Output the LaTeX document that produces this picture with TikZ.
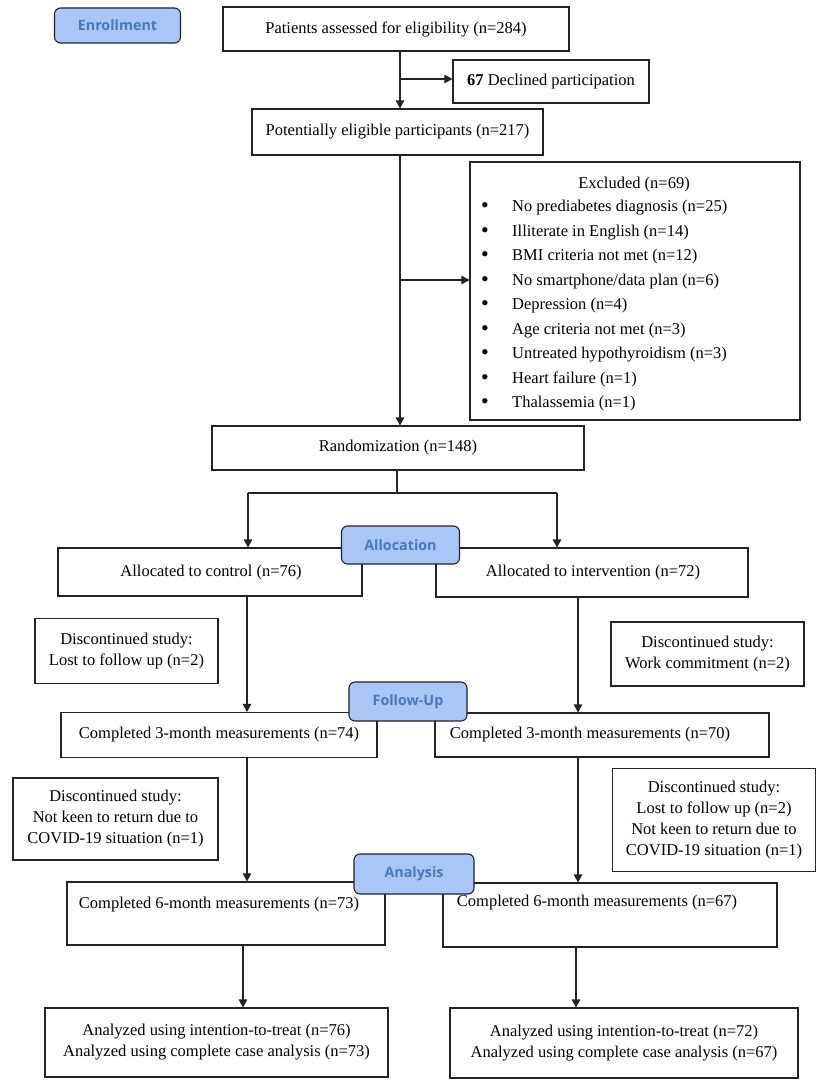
\documentclass[tikz,border=0pt]{standalone}
\usepackage{fontspec}
\setmainfont{Liberation Serif}
\newfontfamily\lblfont{Open Sans}
\usetikzlibrary{arrows.meta,calc}
\definecolor{lblfill}{RGB}{169,198,248}
\definecolor{lbltext}{RGB}{74,120,184}
\definecolor{lineclr}{RGB}{35,35,35}
\begin{document}
\begin{tikzpicture}[x=1pt,y=-1pt,
  box/.style={draw=lineclr, line width=1.1pt, inner sep=0pt, align=center,
    font=\fontsize{16.5}{21}\selectfont},
  txt/.style={inner sep=0pt, align=center, font=\fontsize{16.5}{21}\selectfont},
  stage/.style={draw=lineclr, line width=1.1pt, fill=lblfill, rounded corners=6pt,
    inner sep=0pt, font=\lblfont\bfseries\fontsize{14.3}{17}\selectfont, text=lbltext},
  arr/.style={draw=lineclr, line width=1.1pt, -{Triangle[length=8pt,width=8.5pt]}},
  ln/.style={draw=lineclr, line width=1.1pt}]
\useasboundingbox[fill=white] (0,0) rectangle (829,1089);

% column coordinates
\coordinate (xa) at (400,0);
\coordinate (xL) at (248,0);
\coordinate (xR) at (557,0);
\coordinate (xL2) at (247,0);
\coordinate (xR2) at (578,0);
\coordinate (xL3) at (243,0);
\coordinate (xR3) at (576,0);
\coordinate (b1) at (400,79);
\coordinate (b2) at (400,280);
\coordinate (b3) at (397,493);

% boxes
\node[box, minimum width=346pt, minimum height=44pt] (assess) at (396,29) {Patients assessed for eligibility (n=284)};
\node[box, minimum width=196pt, minimum height=43pt] (declined) at (551,81.5) {\textbf{67} Declined participation};
\node[box, minimum width=291pt, minimum height=46pt] (elig) at (397.5,132) {Potentially eligible participants (n=217)};

\node[box, minimum width=330pt, minimum height=258pt] (excl) at (635,291) {};
\node[txt] (exT) at (634,185) {Excluded (n=69)};
\foreach \t [count=\i] in {No prediabetes diagnosis (n=25), Illiterate in English (n=14),
  BMI criteria not met (n=12), No smartphone/data plan (n=6), Depression (n=4),
  Age criteria not met (n=3), Untreated hypothyroidism (n=3), Heart failure (n=1),
  Thalassemia (n=1)} {
  \node[txt, font=\fontsize{22}{22}\selectfont] (exB\i) at (485,{208+24.5*(\i-1)}) {•};
  \node[txt, anchor=west] (exI\i) at (512,{208+24.5*(\i-1)}) {\t};
}

\node[box, minimum width=372pt, minimum height=44pt] (rand) at (398,448) {Randomization (n=148)};

\node[box, minimum width=304pt, minimum height=48pt] (ctrl) at (210,572) {};
\node[txt] (ctrlT) at (211,573) {Allocated to control (n=76)};
\node[box, minimum width=312pt, minimum height=49pt] (intv) at (592,572.5) {};
\node[txt] (intvT) at (593,573) {Allocated to intervention (n=72)};

\node[box, minimum width=183pt, minimum height=65pt] (disc1) at (126.5,651) {Discontinued study:\\Lost to follow up (n=2)};
\node[box, minimum width=193pt, minimum height=64pt] (disc2) at (707.5,654) {Discontinued study:\\Work commitment (n=2)};

\node[box, minimum width=316pt, minimum height=45pt] (c3l) at (219,735) {Completed 3-month measurements (n=74)};
\node[box, minimum width=334pt, minimum height=44pt] (c3r) at (602,735) {};
\node[txt] (c3rT) at (590,735) {Completed 3-month measurements (n=70)};

\node[box, minimum width=205pt, minimum height=82pt] (disc3) at (115.5,819) {Discontinued study:\\Not keen to return due to\\COVID-19 situation (n=1)};
\node[box, minimum width=203pt, minimum height=103pt] (disc4) at (714,820) {Discontinued study:\\Lost to follow up (n=2)\\Not keen to return due to\\COVID-19 situation (n=1)};

\node[box, minimum width=318pt, minimum height=63pt] (c6l) at (226,913.5) {};
\node[txt] (c6lT) at (219,905) {Completed 6-month measurements (n=73)};
\node[box, minimum width=334pt, minimum height=64pt] (c6r) at (610,915) {};
\node[txt] (c6rT) at (597,903) {Completed 6-month measurements (n=67)};

\node[box, minimum width=343pt, minimum height=69pt] (anl) at (216.5,1042.5) {Analyzed using intention-to-treat (n=76)\\Analyzed using complete case analysis (n=73)};
\node[box, minimum width=348pt, minimum height=70pt] (anr) at (624,1043) {Analyzed using intention-to-treat (n=72)\\Analyzed using complete case analysis (n=67)};

% connectors
\draw[arr] (assess.south -| xa) -- (elig.north -| xa);
\draw[arr] (b1) -- (b1 -| declined.west);
\draw[arr] (elig.south -| xa) -- (rand.north -| xa);
\draw[arr] (b2) -- (b2 -| excl.west);
\draw[ln] (rand.south -| b3) -- (b3);
\draw[ln] (b3 -| xL) -- (b3 -| xR);
\draw[arr] (b3 -| xL) -- (ctrl.north -| xL);
\draw[arr] (b3 -| xR) -- (intv.north -| xR);
\draw[arr] (ctrl.south -| xL2) -- (c3l.north -| xL2);
\draw[arr] (intv.south -| xR2) -- (c3r.north -| xR2);
\draw[arr] (c3l.south -| xL2) -- (c6l.north -| xL2);
\draw[arr] (c3r.south -| xR2) -- (c6r.north -| xR2);
\draw[arr] (c6l.south -| xL3) -- (anl.north -| xL3);
\draw[arr] (c6r.south -| xR3) -- (anr.north -| xR3);

% stage labels
\node[stage, minimum width=126pt, minimum height=35pt] (enroll) at (117.5,25.5) {Enrollment};
\node[stage, minimum width=118pt, minimum height=38pt] (alloc) at (400.5,545) {Allocation};
\node[stage, minimum width=118pt, minimum height=39pt] (follow) at (408,701.5) {Follow-Up};
\node[stage, minimum width=120pt, minimum height=40pt] (analysis) at (414,874) {Analysis};
\end{tikzpicture}
\end{document}
